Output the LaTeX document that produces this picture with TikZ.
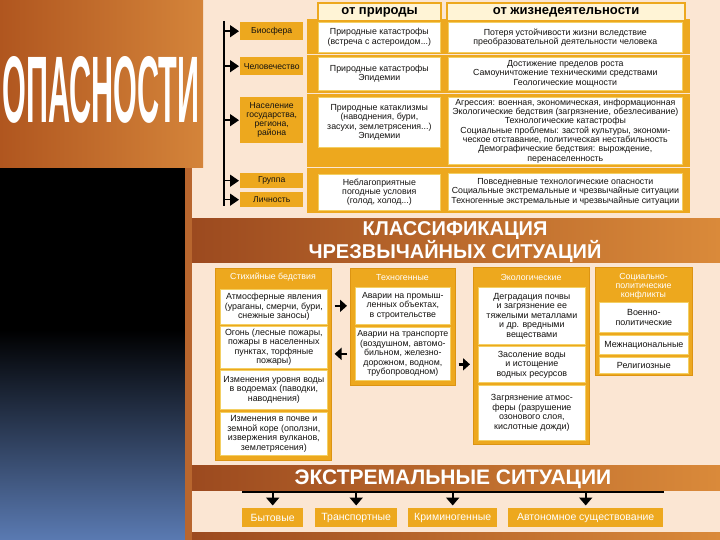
\documentclass[tikz,border=0pt]{standalone}
\usepackage{fontspec}
\setmainfont{Liberation Sans}
\usepackage{graphicx}
\usetikzlibrary{arrows.meta,calc}
\definecolor{bg}{HTML}{FBE6D3}
\definecolor{org}{HTML}{EDA81E}
\definecolor{orgd}{HTML}{DC9412}
\definecolor{wline}{HTML}{F3CF63}
\definecolor{hdrfill}{HTML}{FFF4D6}
\definecolor{brL}{HTML}{9C4A1F}
\definecolor{brR}{HTML}{DA8A3A}
\definecolor{panL}{HTML}{B0561F}
\definecolor{panR}{HTML}{D4843A}
\definecolor{stripc}{HTML}{B8662E}
\definecolor{txt}{HTML}{141210}
\definecolor{blueb}{HTML}{5A7AB2}
\begin{document}
\begin{tikzpicture}[x=1pt,y=-1pt,
  wbox/.style={draw=wline, fill=white, line width=0.7pt, inner sep=0pt, align=center, anchor=north west, text=txt, font=\fontsize{8.8}{9.3}\selectfont},
  lwbox/.style={wbox, font=\fontsize{8.9}{9.5}\selectfont},
  lbox/.style={fill=org, inner sep=0pt, align=center, anchor=north west, text=txt, font=\fontsize{8.6}{9}\selectfont, minimum width=63pt},
  hdr/.style={draw=org, fill=hdrfill, line width=2.2pt, inner sep=0pt, anchor=north west, text=black, font=\bfseries\fontsize{13}{14}\selectfont, minimum height=18pt},
  frame/.style={fill=org, draw=orgd, line width=0.6pt, inner sep=0pt, anchor=north west},
  chdr/.style={text=white, inner sep=0pt, align=center, font=\fontsize{8.8}{9}\selectfont},
  bbox/.style={fill=org, text=white, inner sep=0pt, anchor=north west, font=\fontsize{10.5}{12}\selectfont, minimum height=19pt},
  band/.style={text=white, inner sep=0pt, align=center, font=\bfseries\fontsize{20}{16.5}\selectfont},
  tarr/.style={-{Triangle[length=9pt,width=12pt]}, line width=1.5pt, shorten >=1pt},
  harr/.style={-{Triangle[length=7pt,width=12pt]}, line width=2.5pt, shorten >=3pt, shorten <=3pt},
  darr/.style={-{Triangle[length=8pt,width=13pt]}, line width=2pt, shorten >=2.5pt}
]
\useasboundingbox (0,0) rectangle (720,540);
\fill[bg] (0,0) rectangle (720,540);
% left panel
\shade[left color=panL, right color=panR] (0,0) rectangle (203,168);
\node[text=white, inner sep=0pt] (opas) at (101,90) {\resizebox{197pt}{66pt}{\bfseries ОПАСНОСТИ}};
\fill[black] (0,168) rectangle (185,330);
\shade[top color=black, bottom color=blueb] (0,330) rectangle (185,540);
\fill[stripc] (185,168) rectangle (192,540);
% bands
\shade[left color=brL, right color=brR] (192,219) rectangle (720,262);
\shade[left color=brL, right color=brR] (192,465) rectangle (720,490);
\shade[left color=brL, right color=brR] (192,532) rectangle (720,540);
\node[band] (klass) at (455,242) {КЛАССИФИКАЦИЯ\\ЧРЕЗВЫЧАЙНЫХ СИТУАЦИЙ};
\node[band, font=\bfseries\fontsize{21}{22}\selectfont] (extr) at (453,479) {ЭКСТРЕМАЛЬНЫЕ СИТУАЦИИ};

% ---------- top section
\fill[org] (307,19) rectangle (690,54);
\fill[org] (307,55.5) rectangle (690,93);
\fill[org] (307,94.5) rectangle (690,167);
\fill[org] (307,168.5) rectangle (690,213);
\node[hdr, minimum width=123pt] (hnat) at (317,2) {от природы};
\node[hdr, minimum width=238pt] (hlife) at (446,2) {от жизнедеятельности};

\node[wbox, minimum width=122pt, minimum height=30pt] (n1) at (318,22) {Природные катастрофы\\(встреча с астероидом...)};
\node[wbox, minimum width=234pt, minimum height=30pt] (l1) at (448,22) {Потеря устойчивости жизни вследствие\\преобразовательной деятельности человека};
\node[wbox, minimum width=122pt, minimum height=33pt] (n2) at (318,57) {Природные катастрофы\\Эпидемии};
\node[wbox, minimum width=234pt, minimum height=33pt] (l2) at (448,57) {Достижение пределов роста\\Самоуничтожение техническими средствами\\Геологические мощности};
\node[wbox, minimum width=122pt, minimum height=50pt] (n3) at (318,97) {Природные катаклизмы\\(наводнения, бури,\\засухи, землетрясения...)\\Эпидемии};
\node[wbox, minimum width=234pt, minimum height=67pt] (l3) at (448,97) {Агрессия: военная, экономическая, информационная\\Экологические бедствия (загрязнение, обезлесивание)\\Технологические катастрофы\\Социальные проблемы: застой культуры, экономи-\\ческое отставание, политическая нестабильность\\Демографические бедствия: вырождение,\\перенаселенность};
\node[wbox, minimum width=122pt, minimum height=36pt] (n4) at (318,174) {Неблагоприятные\\погодные условия\\(голод, холод...)};
\node[wbox, minimum width=234pt, minimum height=37pt] (l4) at (448,173) {Повседневные технологические опасности\\Социальные экстремальные и чрезвычайные ситуации\\Техногенные экстремальные и чрезвычайные ситуации};

\node[lbox, minimum height=18pt] (bio) at (240,22) {Биосфера};
\node[lbox, minimum height=18pt] (hum) at (240,57) {Человечество};
\node[lbox, minimum height=46pt] (pop) at (240,97) {Население\\государства,\\региона,\\района};
\node[lbox, minimum height=15pt] (grp) at (240,173) {Группа};
\node[lbox, minimum height=15pt] (pers) at (240,192) {Личность};

\coordinate (vtop) at (224,21);
\coordinate (vbot) at (224,206);
\draw[line width=1.8pt] (vtop) -- (vbot);
\foreach \t in {bio,hum,pop,grp,pers}{\draw[tarr] (vtop |- \t.west) -- (\t.west);}

% ---------- lower section
\node[frame, minimum width=116pt, minimum height=192pt] (c1) at (215,268) {};
\node[frame, minimum width=105pt, minimum height=117pt] (c2) at (350,268) {};
\node[frame, minimum width=116pt, minimum height=177pt] (c3) at (473,267) {};
\node[frame, minimum width=97pt, minimum height=108pt] (c4) at (595,267) {};

\node[chdr] (c1h) at (273,277.5) {Стихийные бедствия};
\node[chdr] (c2h) at (402.5,277.5) {Техногенные};
\node[chdr] (c3h) at (531,277.5) {Экологические};
\node[chdr] (c4h) at (643.5,286) {Социально-\\политические\\конфликты};

\node[lwbox, minimum width=107pt, minimum height=35pt] (c1a) at (220,289) {Атмосферные явления\\(ураганы, смерчи, бури,\\снежные заносы)};
\node[lwbox, minimum width=107pt, minimum height=42pt] (c1b) at (220,326) {Огонь (лесные пожары,\\пожары в населенных\\пунктах, торфяные\\пожары)};
\node[lwbox, minimum width=107pt, minimum height=39pt] (c1c) at (220,370) {Изменения уровня воды\\в водоемах (паводки,\\наводнения)};
\node[lwbox, minimum width=107pt, minimum height=43pt] (c1d) at (220,412) {Изменения в почве и\\земной коре (оползни,\\извержения вулканов,\\землетрясения)};

\node[lwbox, minimum width=95pt, minimum height=37pt, font=\fontsize{8.8}{9.5}\selectfont] (c2a) at (355,287) {Аварии на промыш-\\ленных объектах,\\в строительстве};
\node[lwbox, minimum width=95pt, minimum height=53pt, font=\fontsize{8.8}{9.5}\selectfont] (c2b) at (355,327) {Аварии на транспорте\\(воздушном, автомо-\\бильном, железно-\\дорожном, водном,\\трубопроводном)};

\node[lwbox, minimum width=107pt, minimum height=57pt] (c3a) at (478,287) {Деградация почвы\\и загрязнение ее\\тяжелыми металлами\\и др. вредными\\веществами};
\node[lwbox, minimum width=107pt, minimum height=36pt] (c3b) at (478,346) {Засоление воды\\и истощение\\водных ресурсов};
\node[lwbox, minimum width=107pt, minimum height=55pt] (c3c) at (478,385) {Загрязнение атмос-\\феры (разрушение\\озонового слоя,\\кислотные дожди)};

\node[lwbox, minimum width=89pt, minimum height=30pt] (c4a) at (599,302) {Военно-\\политические};
\node[lwbox, minimum width=89pt, minimum height=19pt] (c4b) at (599,335) {Межнациональные};
\node[lwbox, minimum width=89pt, minimum height=16pt] (c4c) at (599,357) {Религиозные};

\draw[harr] (c1.east |- c2a.west) -- (c2.west |- c2a.west);
\draw[harr] (c2.west |- c2b.west) -- (c1.east |- c2b.west);
\draw[harr] (c2.east |- c3b.west) -- (c3.west |- c3b.west);

% ---------- bottom
\node[bbox, minimum width=61pt] (b1) at (242,508) {Бытовые};
\node[bbox, minimum width=82pt] (b2) at (315,508) {Транспортные};
\node[bbox, minimum width=89pt] (b3) at (408,508) {Криминогенные};
\node[bbox, minimum width=155pt] (b4) at (508,508) {Автономное существование};
\coordinate (lnL) at (242,492);
\coordinate (lnR) at (664,492);
\draw[line width=1.8pt] (lnL) -- (lnR);
\foreach \b in {b1,b2,b3,b4}{\draw[darr] (\b.north |- lnL) -- (\b.north);}
\end{tikzpicture}
\end{document}
